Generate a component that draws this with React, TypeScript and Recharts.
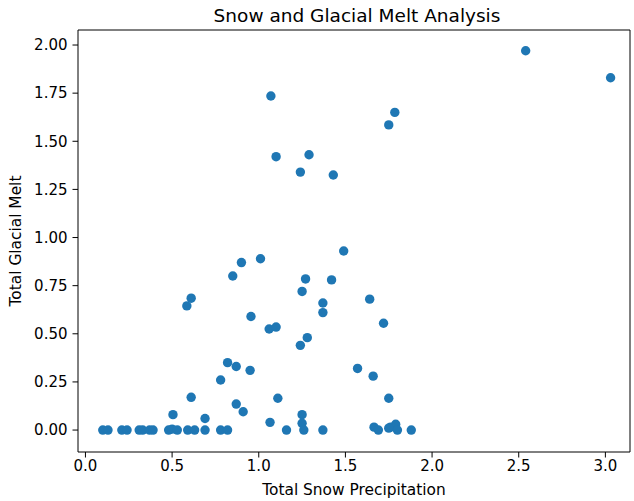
import React from 'react';
import { ScatterChart, Scatter, XAxis, YAxis, ReferenceLine } from 'recharts';

const snowPrecip = [
  2.54, 3.03, 1.07, 1.785, 1.75, 1.10, 1.29, 1.24, 1.43, 1.49,
  1.01, 0.90, 0.85, 1.27, 1.42, 1.25, 0.61, 0.585, 1.37, 1.37,
  1.64, 0.955, 1.72, 1.06, 1.10, 1.28, 1.24, 1.57, 1.66, 0.82,
  0.87, 0.95, 0.78, 0.61, 1.11, 1.75, 0.87, 0.91, 0.505, 0.69,
  1.25, 1.065, 1.25, 1.665, 1.79, 1.76,
  0.10, 0.13, 0.21, 0.24, 0.31, 0.33, 0.37, 0.39, 0.48, 0.50,
  0.53, 0.59, 0.63, 0.69, 0.78, 0.82, 1.16, 1.26, 1.37, 1.69,
  1.75, 1.80, 1.88,
];

const glacialMelt = [
  1.97, 1.83, 1.735, 1.65, 1.585, 1.42, 1.43, 1.34, 1.325, 0.93,
  0.89, 0.87, 0.80, 0.785, 0.78, 0.72, 0.685, 0.645, 0.66, 0.61,
  0.68, 0.59, 0.555, 0.525, 0.535, 0.48, 0.44, 0.32, 0.28, 0.35,
  0.33, 0.31, 0.26, 0.17, 0.165, 0.165, 0.135, 0.095, 0.08, 0.06,
  0.08, 0.04, 0.035, 0.015, 0.03, 0.015,
  0.0, 0.0, 0.0, 0.0, 0.0, 0.0, 0.0, 0.0, 0.0, 0.005,
  0.0, 0.0, 0.0, 0.0, 0.0, 0.0, 0.0, 0.0, 0.0, 0.0,
  0.01, 0.0, 0.0,
];

const xTicks = [0, 0.5, 1.0, 1.5, 2.0, 2.5, 3.0];
const yTicks = [0, 0.25, 0.5, 0.75, 1.0, 1.25, 1.5, 1.75, 2.0];

const X_MIN = -0.043;
const X_MAX = 3.142;
const Y_MIN = -0.114;
const Y_MAX = 2.078;

const points = snowPrecip.map((x, i) => ({ x, y: glacialMelt[i] }));

const FONT = 'DejaVu Sans';
const COLOR = '#1f77b4';

const Dot = (props: any) => {
  const { cx, cy } = props;
  if (cx == null || cy == null) return null;
  return <circle cx={cx} cy={cy} r={4.7} fill={COLOR} />;
};

export default function App() {
  return (
    <div style={{ position: 'absolute', left: 0, top: 0, width: 634, height: 501, background: '#fff' }}>
      <ScatterChart
        width={634}
        height={501}
        margin={{ top: 30, right: 4, bottom: 0, left: 0 }}
        style={{ fontFamily: FONT }}
      >
        <text
          x={357}
          y={22}
          textAnchor="middle"
          fontFamily={FONT}
          fontSize={18.5}
          fill="#000"
        >
          Snow and Glacial Melt Analysis
        </text>
        <XAxis
          type="number"
          dataKey="x"
          domain={[X_MIN, X_MAX]}
          ticks={xTicks}
          tickFormatter={(v: number) => v.toFixed(1)}
          allowDataOverflow
          height={49}
          axisLine={{ stroke: '#000', strokeWidth: 1 }}
          tickLine={{ stroke: '#000', strokeWidth: 1 }}
          tickSize={5.5}
          tickMargin={3}
          tick={{ fill: '#000', fontSize: 15, fontFamily: FONT }}
          label={{
            value: 'Total Snow Precipitation',
            position: 'insideBottom',
            offset: 6,
            fill: '#000',
            fontSize: 15.4,
            fontFamily: FONT,
          }}
        />
        <YAxis
          type="number"
          dataKey="y"
          domain={[Y_MIN, Y_MAX]}
          ticks={yTicks}
          tickFormatter={(v: number) => v.toFixed(2)}
          allowDataOverflow
          width={78}
          axisLine={{ stroke: '#000', strokeWidth: 1 }}
          tickLine={{ stroke: '#000', strokeWidth: 1 }}
          tickSize={5.5}
          tickMargin={5}
          tick={{ fill: '#000', fontSize: 15, fontFamily: FONT }}
          label={{
            value: 'Total Glacial Melt',
            angle: -90,
            position: 'insideLeft',
            offset: 16,
            style: { textAnchor: 'middle' },
            fill: '#000',
            fontSize: 15.4,
            fontFamily: FONT,
          }}
        />
        <ReferenceLine y={Y_MAX} stroke="#000" strokeWidth={1} ifOverflow="extendDomain" />
        <ReferenceLine x={X_MAX} stroke="#000" strokeWidth={1} ifOverflow="extendDomain" />
        <Scatter data={points} isAnimationActive={false} shape={Dot} />
      </ScatterChart>
    </div>
  );
}
